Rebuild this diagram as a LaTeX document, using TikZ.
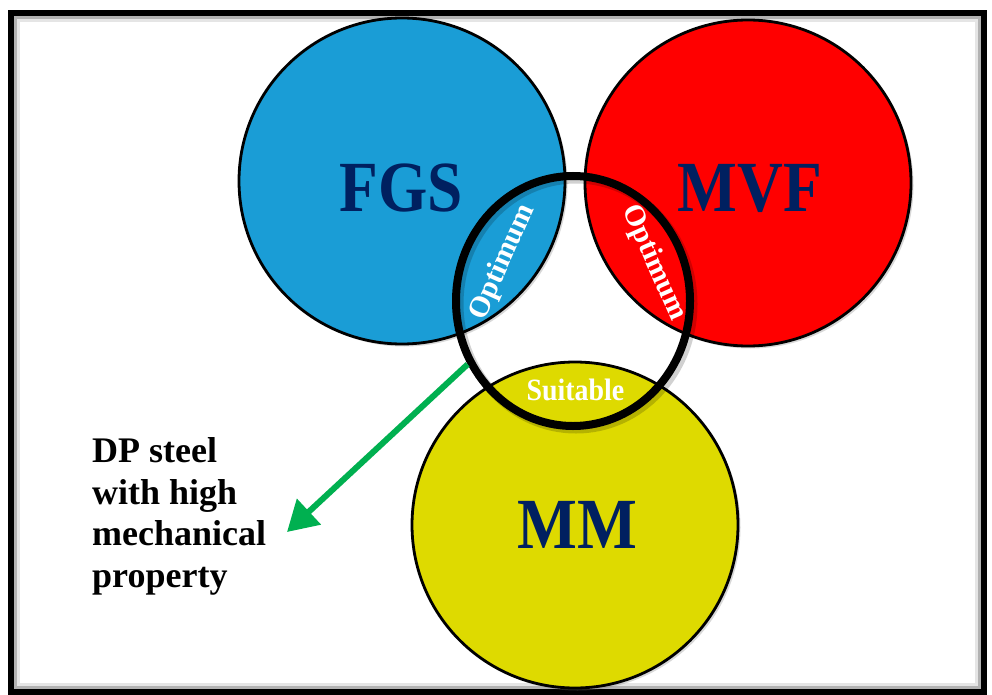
\documentclass[tikz,border=0pt]{standalone}
\usepackage{fontspec}
\setmainfont{Liberation Serif}
\usetikzlibrary{shapes.geometric,shadows,arrows.meta}
\definecolor{fgsblue}{RGB}{26,157,214}
\definecolor{mvfred}{RGB}{255,0,0}
\definecolor{mmyellow}{RGB}{222,218,0}
\definecolor{navytext}{RGB}{0,32,96}
\definecolor{arrowgreen}{RGB}{0,176,80}
\tikzset{
  bigcircle/.style={circle, draw=black, line width=2.8pt, minimum size=326pt, inner sep=0pt,
    drop shadow={opacity=0.3, shadow xshift=2.5pt, shadow yshift=-2.5pt}},
  biglabel/.style={text=navytext, inner sep=0pt, xscale=0.88,
    font=\fontsize{72}{72}\selectfont\bfseries},
  lenslabel/.style={text=white, inner sep=0pt,
    font=\fontsize{29.5}{29.5}\selectfont\bfseries},
  ringstyle/.style={ellipse, draw=black, line width=8pt, minimum width=234pt,
    minimum height=250pt, inner sep=0pt},
  sidetext/.style={align=left, inner sep=0pt, text=black,
    font=\fontsize{36}{41.5}\selectfont\bfseries},
  greenarrow/.style={draw=arrowgreen, line width=6pt, -{Triangle[length=30pt,width=34pt]}}
}
\begin{document}
\begin{tikzpicture}[x=1pt,y=-1pt]
\useasboundingbox (0,0) rectangle (992,695);
\fill[white] (0,0) rectangle (992,695);
% frame
\draw[black!10, line width=3pt] (18.5,20.5) rectangle (976.5,684.5);
\draw[black!30, line width=2.5pt] (15.5,17.5) rectangle (979.5,687.5);
\draw[black, line width=6pt] (11,13) rectangle (984,692);
% circles
\node[bigcircle, fill=fgsblue] (fgs) at (402,181) {};
\node[bigcircle, fill=mvfred] (mvf) at (748,183) {};
\node[bigcircle, fill=mmyellow] (mm) at (575,525) {};
% labels
\node[biglabel] (fgsl) at (401.5,188) {FGS};
\node[biglabel] (mvfl) at (750,188.5) {MVF};
\node[biglabel] (mml) at (577,525) {MM};
% ring shadow and ring
\draw[black, opacity=0.18, line width=9pt] (576,304) ellipse [x radius=117pt, y radius=125pt];
\node[ringstyle] (ring) at (573,301) {};
% lens labels
\node[lenslabel, rotate=66] (opt1) at (503,262) {Optimum};
\node[lenslabel, rotate=-66] (opt2) at (654,263) {Optimum};
\node[lenslabel, xscale=0.9, font=\fontsize{31}{31}\selectfont\bfseries] (suit) at (575.5,390) {Suitable};
% side text and arrow
\node[sidetext, anchor=north west] (dp) at (92,437.5) {DP steel\\with high\\mechanical\\property};
\coordinate (tip) at (287,532);
\draw[greenarrow] (ring.211.5) -- (tip);
\end{tikzpicture}
\end{document}
